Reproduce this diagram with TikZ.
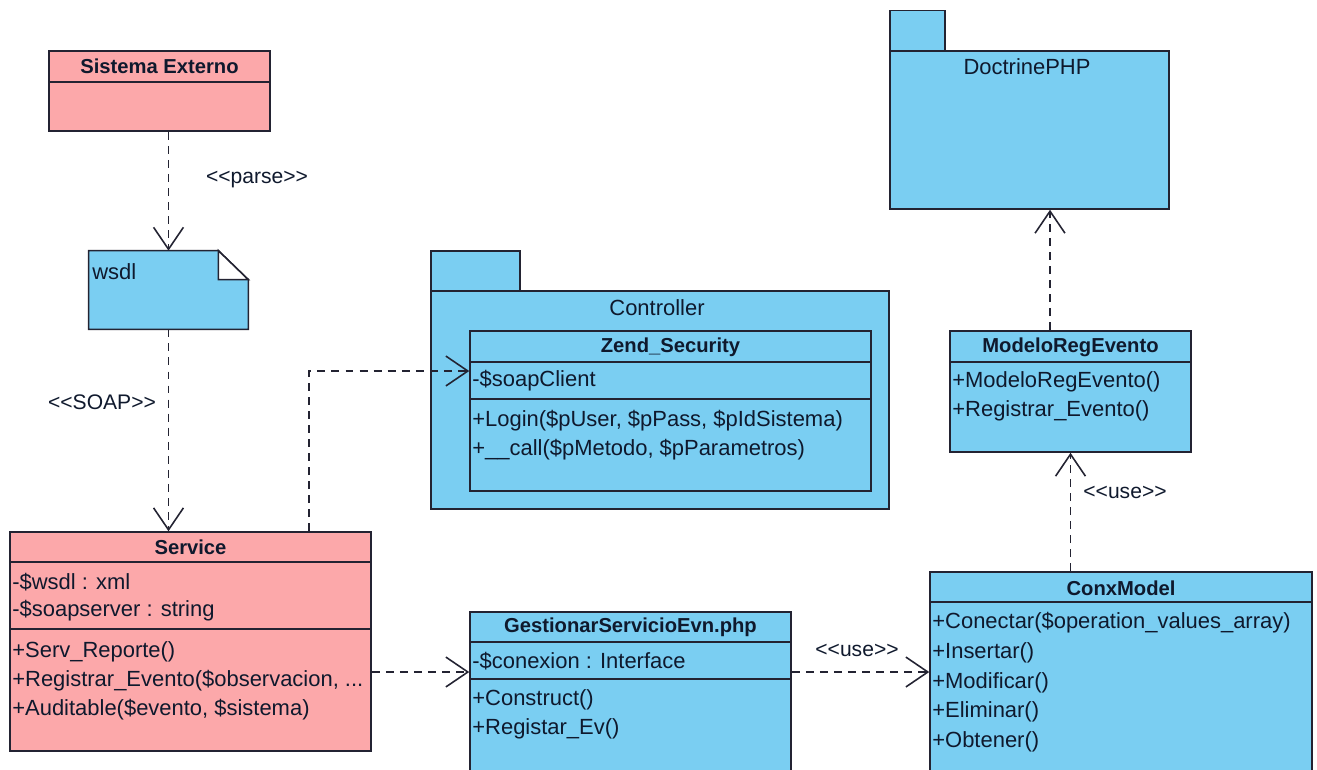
\documentclass[tikz,border=0pt]{standalone}
\usepackage{fontspec}
\setmainfont{Liberation Sans}
\usetikzlibrary{arrows.meta}

\definecolor{umlpink}{RGB}{252,168,170}
\definecolor{umlblue}{RGB}{122,206,242}
\definecolor{umlline}{RGB}{35,35,50}
\definecolor{umltext}{RGB}{15,25,45}

\tikzset{
  pinkbox/.style={draw=umlline,fill=umlpink,line width=0.9pt,inner sep=0pt},
  bluebox/.style={draw=umlline,fill=umlblue,line width=0.9pt,inner sep=0pt},
  divider/.style={draw=umlline,line width=0.9pt},
  title/.style={font=\fontsize{11.5}{13}\selectfont\bfseries,text=umltext,inner sep=0pt},
  member/.style={font=\fontsize{12.5}{14}\selectfont,text=umltext,anchor=west,inner sep=0pt},
  stereo/.style={font=\fontsize{12}{14}\selectfont,text=umltext,inner sep=0pt},
  dep/.style={draw=umlline,line width=0.8pt,dash pattern=on 4.5pt off 3.5pt,
              -{Straight Barb[length=12.5pt,width=17pt,line width=0.9pt]}},
}

\begin{document}
\begin{tikzpicture}[x=0.02cm,y=-0.02cm]
    \useasboundingbox (0,0) rectangle (1317,769);

    % packages
    \node[bluebox,minimum width=1.1cm,minimum height=0.82cm] (doctab) at (917.5,31) {};
    \node[bluebox,minimum width=5.58cm,minimum height=3.16cm] (doctrine) at (1029.5,130) {};
    \node[stereo,font=\fontsize{12.5}{14}\selectfont] (doctrinelbl) at (1027,67) {DoctrinePHP};

    \node[bluebox,minimum width=1.78cm,minimum height=0.8cm] (ctrltab) at (475.5,271) {};
    \node[bluebox,minimum width=9.16cm,minimum height=4.36cm] (controller) at (660,400) {};
    \node[stereo,font=\fontsize{12.5}{14}\selectfont] (controllerlbl) at (657,308) {Controller};

    % Sistema Externo
    \node[pinkbox,minimum width=4.42cm,minimum height=1.6cm] (sisext) at (159.5,91) {};
    \draw[divider] (sisext.west |- 0,82) -- (sisext.east |- 0,82);
    \node[title] (sisexttl) at (159.5,66) {Sistema Externo};

    % wsdl document
    \node[minimum width=3.18cm,minimum height=1.56cm,inner sep=0pt] (wsdl) at (168.5,290) {};
    \draw[bluebox] (wsdl.north west) -- ([xshift=-0.6cm]wsdl.north east)
        -- ([yshift=-0.58cm]wsdl.north east) -- (wsdl.south east) -- (wsdl.south west) -- cycle;
    \draw[divider,fill=white] ([xshift=-0.6cm]wsdl.north east) |- ([yshift=-0.58cm]wsdl.north east) -- cycle;
    \node[member] (wsdllbl) at (92,272) {wsdl};

    % Service
    \node[pinkbox,minimum width=7.22cm,minimum height=4.38cm] (service) at (190.5,641.5) {};
    \draw[divider] (service.west |- 0,562) -- (service.east |- 0,562);
    \draw[divider] (service.west |- 0,629) -- (service.east |- 0,629);
    \node[title] (servicetl) at (190.5,547) {Service};
    \node[member] (sv1) at (12,582) {-\$wsdl : xml};
    \node[member] (sv2) at (12,611) {-\$soapserver : string};
    \node[member] (sv3) at (12,652) {+Serv\_Reporte()};
    \node[member] (sv4) at (12,681) {+Registrar\_Evento(\$observacion, ...};
    \node[member] (sv5) at (12,710) {+Auditable(\$evento, \$sistema)};

    % Zend_Security
    \node[bluebox,minimum width=8.02cm,minimum height=3.2cm] (zend) at (670.5,411) {};
    \draw[divider] (zend.west |- 0,362) -- (zend.east |- 0,362);
    \draw[divider] (zend.west |- 0,399) -- (zend.east |- 0,399);
    \node[title] (zendtl) at (670.5,347) {Zend\_Security};
    \node[member] (zs1) at (472,381) {-\$soapClient};
    \node[member] (zs2) at (472,421) {+Login(\$pUser,  \$pPass,  \$pIdSistema)};
    \node[member] (zs3) at (472,450) {+\_\_call(\$pMetodo, \$pParametros)};

    % ModeloRegEvento
    \node[bluebox,minimum width=4.82cm,minimum height=2.42cm] (modelo) at (1070.5,391.5) {};
    \draw[divider] (modelo.west |- 0,362) -- (modelo.east |- 0,362);
    \node[title] (modelotl) at (1070.5,347) {ModeloRegEvento};
    \node[member] (mr1) at (952,382) {+ModeloRegEvento()};
    \node[member] (mr2) at (952,411) {+Registrar\_Evento()};

    % GestionarServicioEvn.php
    \node[bluebox,minimum width=6.42cm,minimum height=3.6cm] (gest) at (630.5,702) {};
    \draw[divider] (gest.west |- 0,642) -- (gest.east |- 0,642);
    \draw[divider] (gest.west |- 0,679) -- (gest.east |- 0,679);
    \node[title] (gesttl) at (630.5,627) {GestionarServicioEvn.php};
    \node[member] (gs1) at (472,661) {-\$conexion : Interface};
    \node[member] (gs2) at (472,700) {+Construct()};
    \node[member] (gs3) at (472,729) {+Registar\_Ev()};

    % ConxModel
    \node[bluebox,minimum width=7.64cm,minimum height=4.4cm] (conx) at (1121,682) {};
    \draw[divider] (conx.west |- 0,602) -- (conx.east |- 0,602);
    \node[title] (conxtl) at (1121,588) {ConxModel};
    \node[member] (cm1) at (932,623) {+Conectar(\$operation\_values\_array)};
    \node[member] (cm2) at (932,653) {+Insertar()};
    \node[member] (cm3) at (932,683) {+Modificar()};
    \node[member] (cm4) at (932,712) {+Eliminar()};
    \node[member] (cm5) at (932,742) {+Obtener()};

    % dependencies
    \draw[dep] (sisext.south -| wsdl.north) -- (wsdl.north);
    \draw[dep] (wsdl.south) -- (service.north -| wsdl.south);
    \draw[dep] (service.north -| 309,0) |- (zend.west |- 0,371);
    \draw[dep] (service.east |- 0,672) -- (gest.west |- 0,672);
    \draw[dep] (gest.east |- 0,672) -- (conx.west |- 0,672);
    \draw[dep] (conx.north -| modelo.south) -- (modelo.south);
    \draw[dep] (modelo.north -| 1050,0) -- (doctrine.south -| 1050,0);

    \node[stereo] (parse) at (257,180) {<{}<parse>{}>};
    \node[stereo] (soap) at (102,402) {<{}<SOAP>{}>};
    \node[stereo] (use1) at (857,650) {<{}<use>{}>};
    \node[stereo] (use2) at (1125,492) {<{}<use>{}>};
\end{tikzpicture}
\end{document}
